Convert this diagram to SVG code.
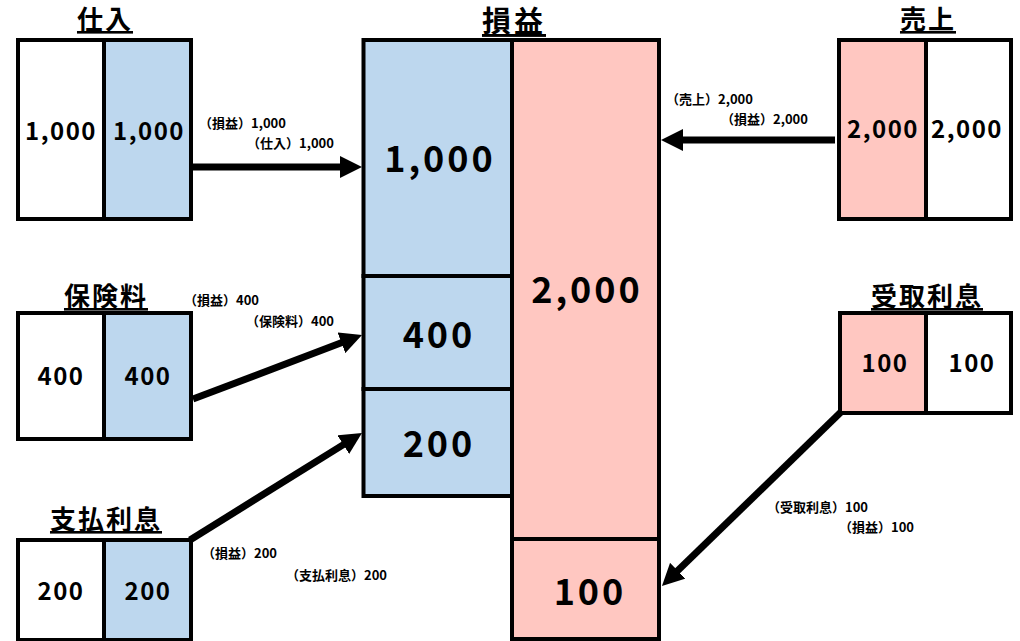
<svg xmlns="http://www.w3.org/2000/svg" width="1020" height="641" viewBox="0 0 1020 641">
<style>
  text { font-family: "Noto Sans CJK JP", "Noto Sans", sans-serif; font-weight: 700; fill: #000; text-anchor: middle; }
  .title { font-size: 26px; letter-spacing: 2px; text-decoration: underline; }
  .big-title { font-size: 29px; letter-spacing: 3px; text-decoration: underline; }
  .cell { font-size: 24px; letter-spacing: 1.5px; }
  .big { font-size: 36px; letter-spacing: 3px; }
  .lbl { font-size: 13px; text-anchor: start; }
  .blue { fill: #BDD7EE; stroke: #000; stroke-width: 4; }
  .pink { fill: #FFC7C1; stroke: #000; stroke-width: 4; }
  .white { fill: #FFFFFF; stroke: #000; stroke-width: 4; }
  .arrow { stroke: #000; stroke-width: 7; fill: none; marker-end: url(#head); }
</style>
<defs>
  <marker id="head" markerUnits="userSpaceOnUse" markerWidth="24" markerHeight="22" refX="2" refY="11" orient="auto">
    <path d="M0,0 L22,11 L0,22 z" fill="#000"/>
  </marker>
</defs>
<rect width="1020" height="641" fill="#FFFFFF"/>

<g id="connectors">
  <line class="arrow" x1="193" y1="167" x2="342" y2="167"/>
  <line class="arrow" x1="835" y1="140" x2="681" y2="140"/>
  <line class="arrow" x1="193" y1="399" x2="343.3" y2="342.1"/>
  <line class="arrow" x1="190" y1="540" x2="345" y2="443.6"/>
  <line class="arrow" x1="841" y1="412" x2="676.3" y2="572.1"/>
  <text class="lbl" x="199" y="128">（損益）1,000</text>
  <text class="lbl" x="247" y="148">（仕入）1,000</text>
  <text class="lbl" x="666" y="104">（売上）2,000</text>
  <text class="lbl" x="721" y="124">（損益）2,000</text>
  <text class="lbl" x="184" y="305">（損益）400</text>
  <text class="lbl" x="246" y="326">（保険料）400</text>
  <text class="lbl" x="202" y="558">（損益）200</text>
  <text class="lbl" x="286" y="580">（支払利息）200</text>
  <text class="lbl" x="767" y="512">（受取利息）100</text>
  <text class="lbl" x="839" y="532">（損益）100</text>
</g>

<g id="node-soneki">
  <text class="big-title" x="514" y="32">損益</text>
  <rect class="pink" x="512" y="40" width="147" height="499"/>
  <rect class="pink" x="512" y="539" width="147" height="100"/>
  <rect class="blue" x="363.5" y="40" width="148.5" height="236"/>
  <rect class="blue" x="363.5" y="276" width="148.5" height="113"/>
  <rect class="blue" x="363.5" y="389" width="148.5" height="107"/>
  <text class="big" x="440" y="172">1,000</text>
  <text class="big" x="439" y="348">400</text>
  <text class="big" x="439" y="457">200</text>
  <text class="big" x="587" y="303">2,000</text>
  <text class="big" x="590" y="605">100</text>
</g>

<g id="node-shiire">
  <text class="title" x="105" y="29">仕入</text>
  <rect class="white" x="18" y="40" width="86" height="179"/>
  <rect class="blue" x="104" y="40" width="87" height="179"/>
  <text class="cell" x="61" y="140">1,000</text>
  <text class="cell" x="149" y="140">1,000</text>
</g>

<g id="node-uriage">
  <text class="title" x="928" y="29">売上</text>
  <rect class="pink" x="839" y="40" width="87" height="179"/>
  <rect class="white" x="926" y="40" width="85" height="179"/>
  <text class="cell" x="883" y="138">2,000</text>
  <text class="cell" x="967" y="138">2,000</text>
</g>

<g id="node-hokenryo">
  <text class="title" x="106" y="306">保険料</text>
  <rect class="white" x="18" y="313" width="86" height="126"/>
  <rect class="blue" x="104" y="313" width="87" height="126"/>
  <text class="cell" x="61" y="385">400</text>
  <text class="cell" x="148" y="385">400</text>
</g>

<g id="node-shiharai-risoku">
  <text class="title" x="106" y="529">支払利息</text>
  <rect class="white" x="18" y="540" width="86" height="100"/>
  <rect class="blue" x="104" y="540" width="87" height="100"/>
  <text class="cell" x="61" y="600">200</text>
  <text class="cell" x="148" y="600">200</text>
</g>

<g id="node-uketori-risoku">
  <text class="title" x="927" y="306">受取利息</text>
  <rect class="pink" x="840" y="313" width="86" height="100"/>
  <rect class="white" x="926" y="313" width="85" height="100"/>
  <text class="cell" x="885" y="372">100</text>
  <text class="cell" x="972" y="372">100</text>
</g>
</svg>
